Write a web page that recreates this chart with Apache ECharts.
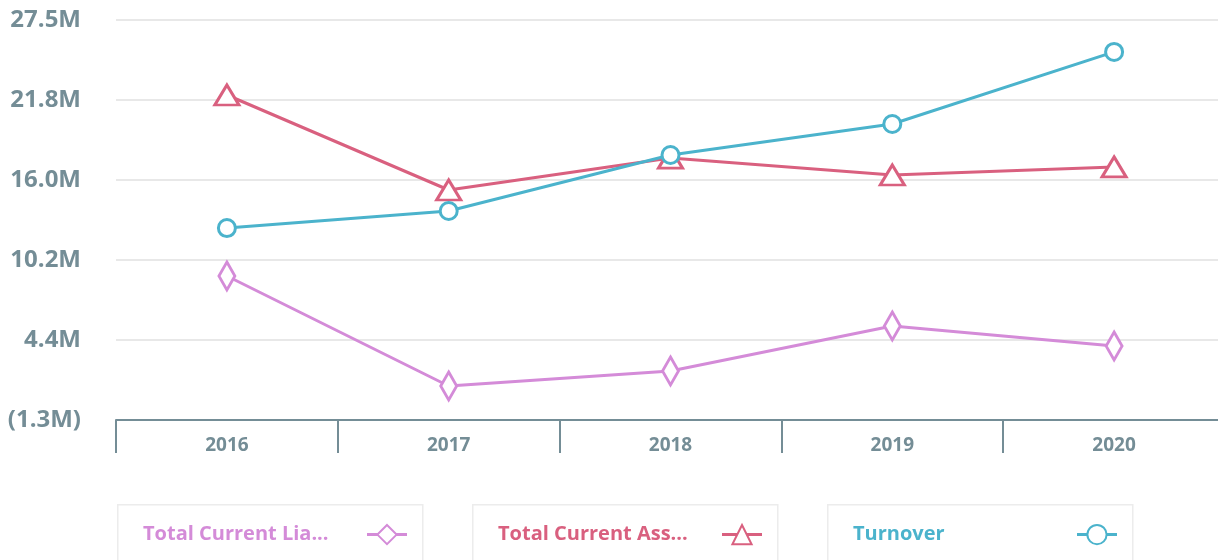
<!DOCTYPE html>
<html>
<head>
<meta charset="utf-8">
<script src="https://cdn.jsdelivr.net/npm/echarts@6/dist/echarts.min.js"></script>
<style>
  html, body { margin: 0; padding: 0; background: #fff; overflow: hidden; }
  #chart { width: 1225px; height: 560px; }
</style>
</head>
<body>
<div id="chart"></div>
<script>
const years = ['2016', '2017', '2018', '2019', '2020']
const yTickLabels = ['(1.3M)', '4.4M', '10.2M', '16.0M', '21.8M', '27.5M']
const liabilities = [9.07, 1.15, 2.23, 5.47, 4.03]
const assets = [22.1, 15.26, 17.56, 16.34, 16.92]
const turnover = [12.52, 13.75, 17.78, 20.01, 25.2]

const names = ['Total Current Liabilities', 'Total Current Assets', 'Turnover']
const colors = ['#d48bd8', '#d9607f', '#4bb3cc']
const symbols = ['diamond', 'triangle', 'circle']
const axisColor = '#748d96'
const font = '"Open Sans", "Noto Sans", sans-serif'
const legendFontSize = 20

const chart = echarts.init(document.getElementById('chart'))

// legend boxes, one per series
const boxLeft = [117, 472, 827]
const boxes = boxLeft.map(x => ({
  type: 'rect',
  left: x,
  top: 504,
  shape: { width: 305, height: 70 },
  style: { fill: '#fff', stroke: '#ececec', lineWidth: 1.5 },
  z: -1,
}))

function shortName(n) {
  if (n.length > 17) return n.slice(0, 17) + '...'
  return n
}

// measure label so the icon lands at the right of each box
const ctx = document.createElement('canvas').getContext('2d')
ctx.font = 'bold ' + legendFontSize + 'px ' + font
function textWidth(s) {
  return ctx.measureText(s).width
}

const legends = names.map((n, i) => ({
  left: boxLeft[i] + 26,
  top: 524,
  padding: 0,
  align: 'right',
  itemWidth: 40,
  itemHeight: 24,
  lineStyle: { width: 3 },
  data: [{ name: n, textStyle: { color: colors[i] } }],
  formatter: shortName,
  textStyle: {
    fontFamily: font,
    fontSize: legendFontSize,
    fontWeight: 'bold',
    padding: [0, Math.max(0, 219 - textWidth(shortName(n))), 6, 0],
  },
}))

const series = [liabilities, assets, turnover].map((d, i) => ({
  name: names[i],
  type: 'line',
  data: d,
  symbol: symbols[i],
  symbolSize: [[16, 28], [24, 20], 17][i],
  lineStyle: { width: 3, color: colors[i] },
  itemStyle: { color: '#fff', borderColor: colors[i], borderWidth: 3 },
}))

chart.setOption({
  animation: false,
  textStyle: { fontFamily: font },
  grid: { left: 116, top: 20, right: 0, height: 400 },
  graphic: boxes,
  legend: legends,
  xAxis: {
    type: 'category',
    data: years,
    axisLine: { onZero: false, lineStyle: { color: axisColor, width: 2 } },
    axisTick: { show: true, length: 33, lineStyle: { color: axisColor, width: 2 } },
    axisLabel: {
      color: axisColor,
      fontSize: 19,
      fontWeight: 'bold',
      margin: 16,
    },
  },
  yAxis: {
    type: 'value',
    min: -1.3,
    max: 27.5,
    interval: 5.76,
    axisLine: { show: false },
    axisTick: { show: false },
    splitLine: { lineStyle: { color: '#e0e0e0', width: 1.5 } },
    axisLabel: {
      color: axisColor,
      fontSize: 24,
      fontWeight: 'bold',
      margin: 35,
      formatter: (v, i) => yTickLabels[i],
    },
  },
  series: series,
})
</script>
</body>
</html>
